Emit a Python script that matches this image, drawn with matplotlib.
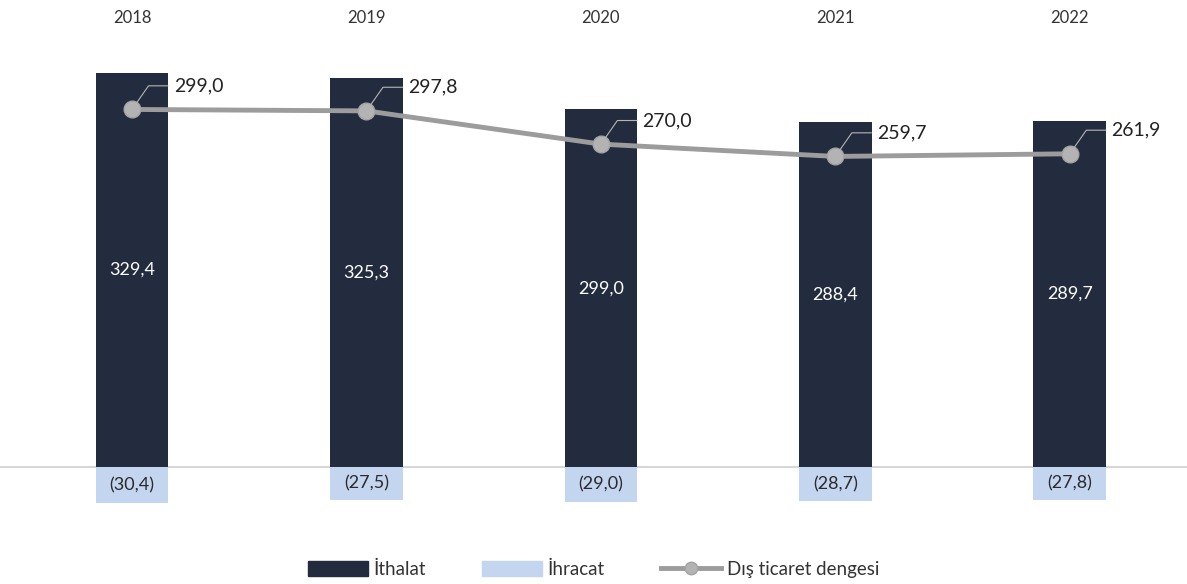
import matplotlib
matplotlib.use("Agg")
import matplotlib.pyplot as plt
from matplotlib.lines import Line2D
from matplotlib.patches import Patch

years = ["2018", "2019", "2020", "2021", "2022"]
ithalat = [329.4, 325.3, 299.0, 288.4, 289.7]
ihracat = [-30.4, -27.5, -29.0, -28.7, -27.8]
denge = [299.0, 297.8, 270.0, 259.7, 261.9]

DARK = "#232c3e"
LIGHT = "#c4d5f0"
LINE = "#9c9c9c"

plt.rcParams["font.family"] = ["Lato", "DejaVu Sans"]


def fmt(v):
    return f"{abs(v):.1f}".replace(".", ",")


fig = plt.figure(figsize=(11.87, 5.84), dpi=100)
ax = fig.add_axes([0.0, 0.1185, 1.0, 0.819])

x = list(range(len(years)))
ax.bar(x, ithalat, width=0.31, color=DARK, zorder=2)
ax.bar(x, ihracat, width=0.31, color=LIGHT, zorder=2)
ax.axhline(0, color="#cfcfcf", lw=1.2, zorder=1)
ax.plot(x, denge, color=LINE, lw=3.5, marker="o", markersize=12,
        markerfacecolor="#b3b3b3", markeredgecolor="#a3a3a3", zorder=3)

for i in x:
    ax.text(i, ithalat[i] / 2, fmt(ithalat[i]), ha="center", va="center",
            color="white", fontsize=13, zorder=4)
    ax.text(i, ihracat[i] / 2, f"({fmt(ihracat[i])})", ha="center", va="center",
            color="#2a2a2a", fontsize=13, zorder=4)
    ax.annotate(fmt(denge[i]), xy=(i, denge[i]), xytext=(30, 17),
                textcoords="offset points", ha="left", va="center",
                fontsize=14, color="#222222", zorder=5,
                arrowprops=dict(arrowstyle="-", color="#b5b5b5", lw=0.8,
                                shrinkA=2, shrinkB=4,
                                connectionstyle="angle,angleA=0,angleB=55,rad=0"))
    ax.text(i, 1.038, years[i], transform=ax.get_xaxis_transform(),
            ha="center", va="center", fontsize=12, color="#333333")

ax.set_xlim(-0.563, 4.5)
ax.set_ylim(-40, 360)
ax.axis("off")

handles = [
    Patch(color=DARK, label="İthalat"),
    Patch(color=LIGHT, label="İhracat"),
    Line2D([0], [0], color=LINE, lw=3.5, marker="o", markersize=9,
           markerfacecolor="#b3b3b3", markeredgecolor="#a3a3a3",
           label="Dış ticaret dengesi"),
]
fig.legend(handles=handles, loc="center", bbox_to_anchor=(0.5, 0.025),
           ncol=3, frameon=False, fontsize=13.5, handlelength=3.2,
           handleheight=0.8, columnspacing=3.0, handletextpad=0.3,
           labelcolor="#333333")

fig.savefig("out.png", dpi=100, facecolor="white")
